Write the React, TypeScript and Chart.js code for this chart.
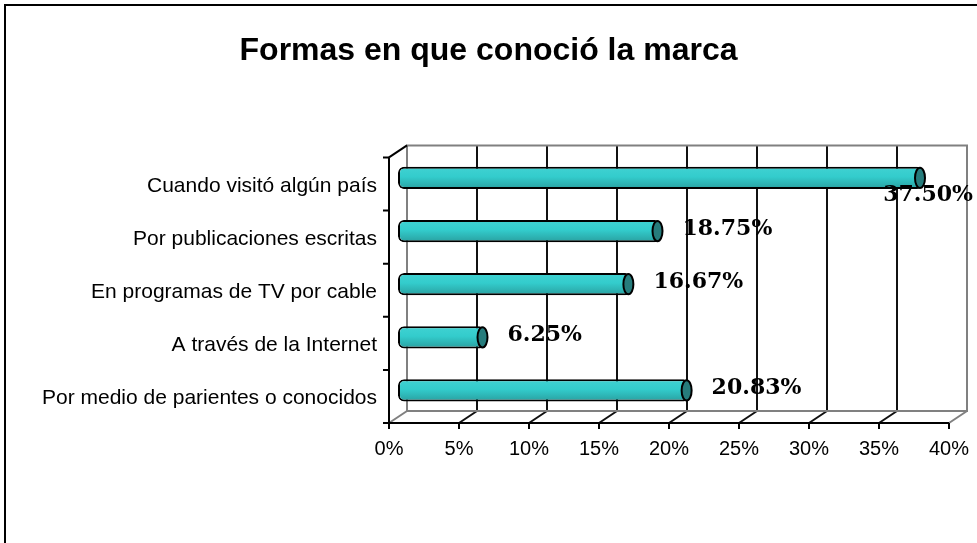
import React, { useEffect, useRef } from "react";
import { Chart, registerables } from "chart.js";

Chart.register(...registerables);

const titleText = "Formas en que conoció la marca";
const categories = [
  "Cuando visitó algún país",
  "Por publicaciones escritas",
  "En programas de TV por cable",
  "A través de la Internet",
  "Por medio de parientes o conocidos",
];
const values = [37.5, 18.75, 16.67, 6.25, 20.83];
const valueLabels = ["37.50%", "18.75%", "16.67%", "6.25%", "20.83%"];
const axisMin = 0;
const axisMax = 40;
const axisStep = 5;

const DX = 9;
const DY = 6;

const framePlugin = {
  id: "frame3d",
  beforeDatasetsDraw(chart: any) {
    const { ctx } = chart;
    const xs = chart.scales.x;
    const top = chart.chartArea.top;
    const bottom = chart.chartArea.bottom;
    const x0 = xs.getPixelForValue(axisMin);
    const x1 = xs.getPixelForValue(axisMax);
    ctx.save();
    ctx.lineCap = "butt";
    for (let v = axisMin + axisStep; v < axisMax; v += axisStep) {
      const x = xs.getPixelForValue(v) + DX;
      ctx.strokeStyle = "#111";
      ctx.lineWidth = 2;
      ctx.beginPath();
      ctx.moveTo(x, top - DY);
      ctx.lineTo(x, bottom - DY);
      ctx.stroke();
    }
    for (let v = axisMin; v <= axisMax; v += axisStep) {
      const x = xs.getPixelForValue(v);
      const edge = v === axisMin || v === axisMax;
      ctx.strokeStyle = edge ? "#808080" : "#111";
      ctx.lineWidth = 2;
      ctx.beginPath();
      ctx.moveTo(x - DX, bottom + DY);
      ctx.lineTo(x + DX, bottom - DY);
      ctx.stroke();
    }
    ctx.strokeStyle = "#808080";
    ctx.lineWidth = 2;
    ctx.beginPath();
    ctx.moveTo(x0 + DX, bottom - DY);
    ctx.lineTo(x0 + DX, top - DY);
    ctx.lineTo(x1 + DX, top - DY);
    ctx.lineTo(x1 + DX, bottom - DY);
    ctx.lineTo(x0 + DX, bottom - DY);
    ctx.stroke();
    ctx.strokeStyle = "#000";
    ctx.beginPath();
    ctx.moveTo(x0 - DX, top + DY);
    ctx.lineTo(x0 + DX, top - DY);
    ctx.stroke();
    ctx.lineWidth = 2;
    ctx.beginPath();
    ctx.moveTo(x0 - DX, top + DY);
    ctx.lineTo(x0 - DX, bottom + DY);
    ctx.lineTo(x1 - DX, bottom + DY);
    ctx.stroke();
    const n = categories.length;
    const band = (bottom - top) / n;
    ctx.beginPath();
    for (let i = 0; i <= n; i++) {
      const y = top + band * i + DY;
      ctx.moveTo(x0 - DX, y);
      ctx.lineTo(x0 - DX - 6, y);
    }
    for (let v = axisMin; v <= axisMax; v += axisStep) {
      const x = xs.getPixelForValue(v) - DX;
      ctx.moveTo(x, bottom + DY);
      ctx.lineTo(x, bottom + DY + 6);
    }
    ctx.stroke();
    ctx.restore();
  },
  afterDatasetsDraw(chart: any) {
    const { ctx } = chart;
    const meta = chart.getDatasetMeta(0);
    ctx.save();
    meta.data.forEach((bar: any) => {
      const h = bar.height;
      ctx.beginPath();
      ctx.ellipse(bar.x - 3, bar.y, 5, h / 2 - 1, 0, 0, Math.PI * 2);
      ctx.fillStyle = "#267C7C";
      ctx.fill();
      ctx.lineWidth = 2;
      ctx.strokeStyle = "#000";
      ctx.stroke();
    });
    ctx.font = 'bold 22px "DejaVu Serif"';
    ctx.fillStyle = "#000";
    ctx.textBaseline = "middle";
    meta.data.forEach((bar: any, i: number) => {
      const txt = valueLabels[i];
      const w = ctx.measureText(txt).width;
      let x = bar.x + 22;
      let y = bar.y - 2;
      if (x + w > chart.width - 4) {
        ctx.textAlign = "right";
        x = chart.width - 4;
        y = bar.y + 17;
      } else {
        ctx.textAlign = "left";
      }
      ctx.fillText(txt, x, y);
    });
    ctx.restore();
  },
  afterDraw(chart: any) {
    const { ctx } = chart;
    ctx.save();
    ctx.strokeStyle = "#000";
    ctx.lineWidth = 2;
    ctx.beginPath();
    ctx.moveTo(5, chart.height + 10);
    ctx.lineTo(5, 5);
    ctx.lineTo(chart.width + 10, 5);
    ctx.stroke();
    ctx.restore();
  },
};

const labelFont = { family: '"Liberation Sans", Arial, sans-serif', size: 21 };
const tickFont = { family: '"Liberation Sans", Arial, sans-serif', size: 20 };

export default function App() {
  const ref = useRef<HTMLCanvasElement | null>(null);
  useEffect(() => {
    document.body.style.margin = "0";
    const canvas = ref.current!;
    const chart = new Chart(canvas, {
      type: "bar",
      data: {
        labels: categories,
        datasets: [
          {
            data: values,
            backgroundColor: (c: any) => {
              const chart = c.chart;
              const ys = chart.scales && chart.scales.y;
              if (!ys || c.dataIndex === undefined) return "#33CCCC";
              const y = ys.getPixelForValue(c.dataIndex);
              if (!isFinite(y)) return "#33CCCC";
              const g = chart.ctx.createLinearGradient(0, y - 11, 0, y + 11);
              g.addColorStop(0, "#40D2D2");
              g.addColorStop(0.45, "#33CCCC");
              g.addColorStop(1, "#29A0A0");
              return g;
            },
            borderColor: "#000",
            borderWidth: 2,
            borderSkipped: false,
            borderRadius: 6,
            barPercentage: 0.42,
            categoryPercentage: 1,
          },
        ],
      },
      options: {
        indexAxis: "y",
        animation: false,
        responsive: false,
        maintainAspectRatio: false,
        layout: { padding: { top: 0, left: 0, right: 0, bottom: 0 } },
        plugins: {
          legend: { display: false },
          tooltip: { enabled: false },
          title: {
            display: true,
            text: titleText,
            color: "#000",
            font: { family: '"Liberation Sans", Arial, sans-serif', size: 32, weight: "bold" },
            padding: { top: 32, bottom: 81 },
          },
        },
        scales: {
          x: {
            min: axisMin,
            max: axisMax,
            ticks: {
              stepSize: axisStep,
              callback: (v: any) => v + "%",
              labelOffset: -DX,
              padding: 20,
              color: "#000",
              font: tickFont,
              maxRotation: 0,
            },
            grid: { display: false, drawTicks: false },
            border: { display: false },
            afterFit: (s: any) => {
              s.height = 126;
              s.paddingLeft = 0;
              s.paddingRight = 19;
            },
          },
          y: {
            ticks: { padding: 21, labelOffset: 8, color: "#000", font: labelFont },
            grid: { display: false, drawTicks: false },
            border: { display: false },
            afterFit: (s: any) => {
              s.width = 398;
              s.paddingTop = 0;
              s.paddingBottom = 0;
            },
          },
        },
      },
      plugins: [framePlugin],
    } as any);
    return () => chart.destroy();
  }, []);
  return <canvas ref={ref} width={977} height={543} style={{ display: "block" }} />;
}
